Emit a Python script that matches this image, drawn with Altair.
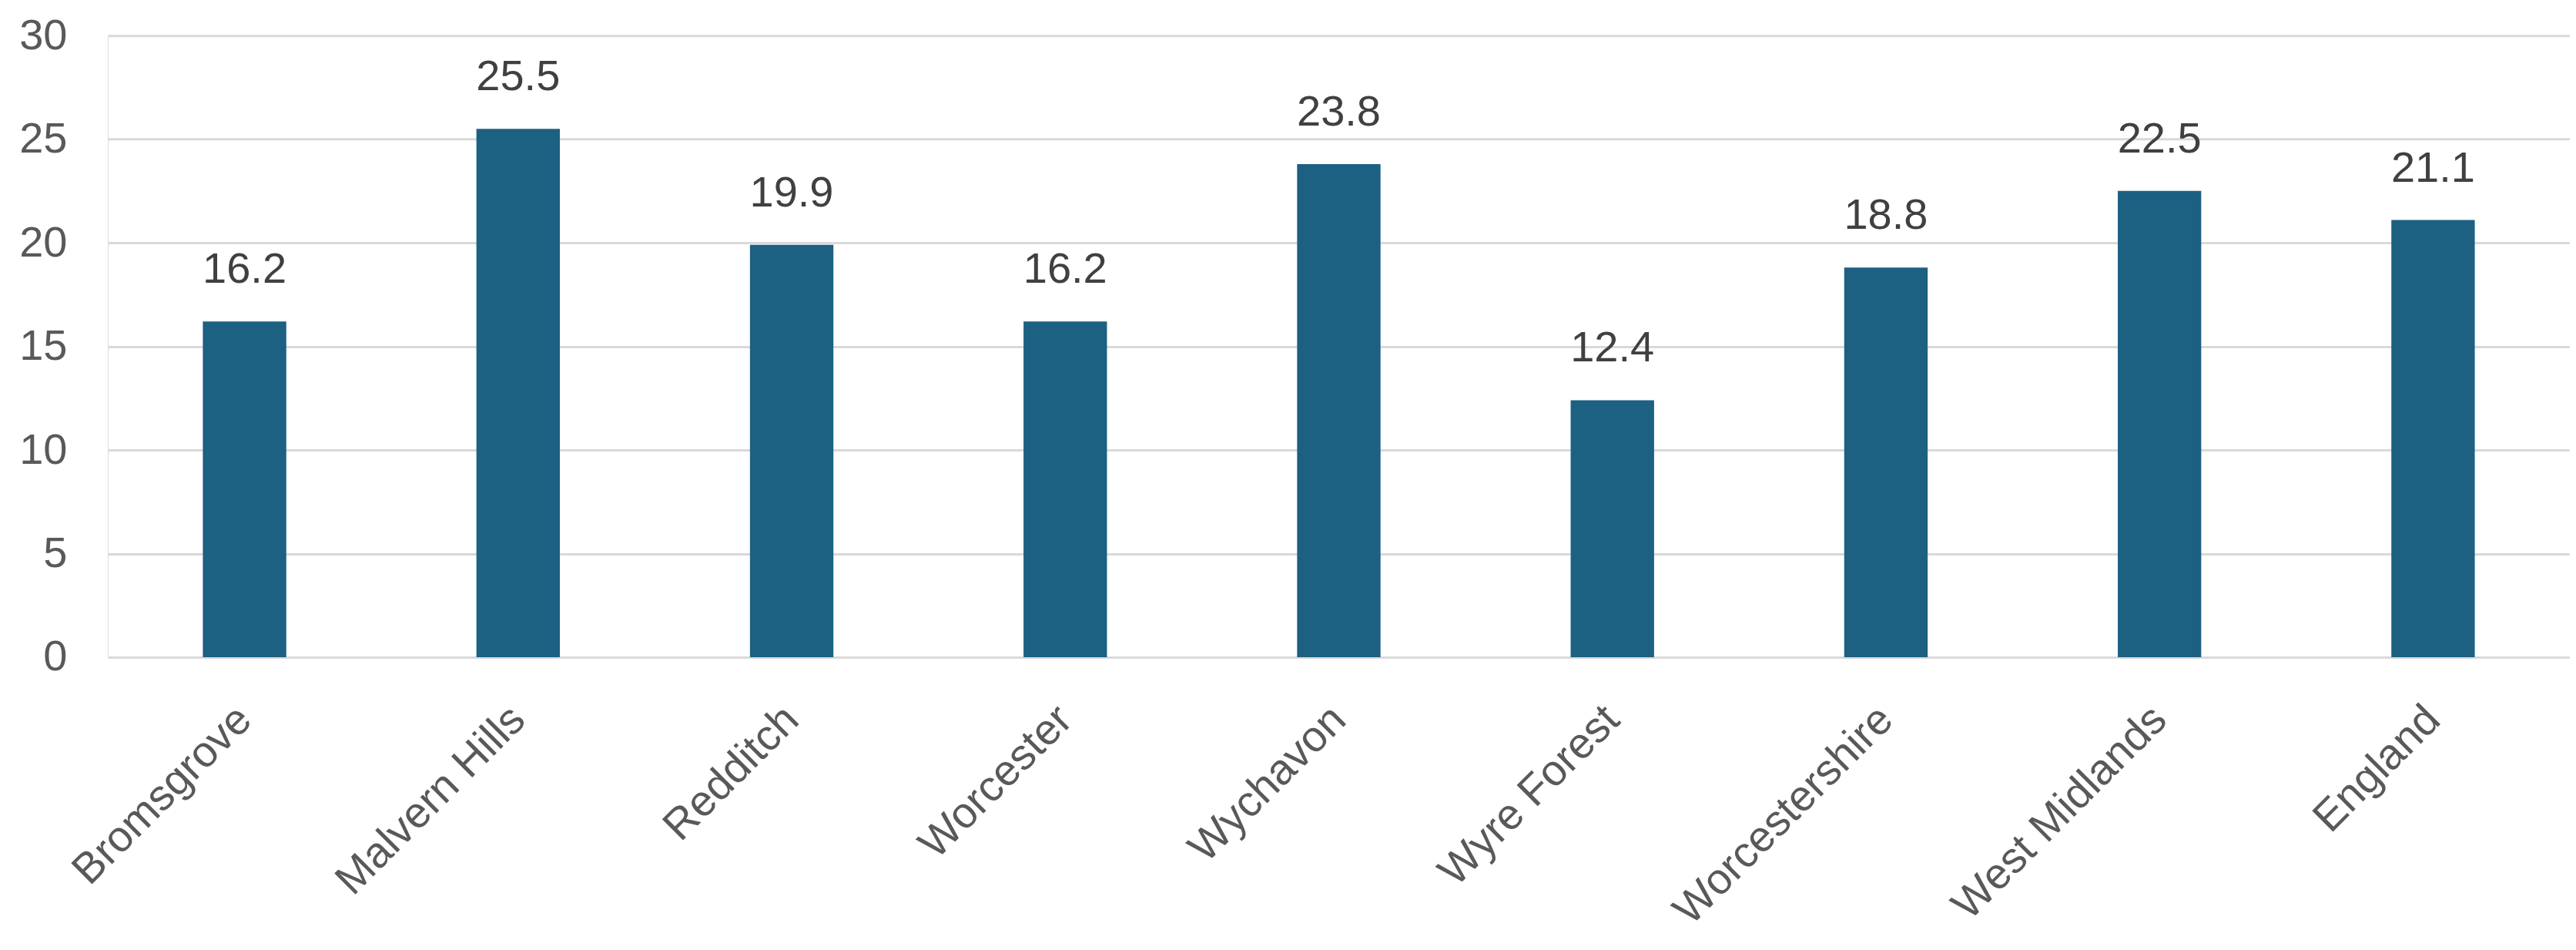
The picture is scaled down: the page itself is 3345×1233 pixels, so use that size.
import altair as alt
import pandas as pd

areas = ["Bromsgrove", "Malvern Hills", "Redditch", "Worcester", "Wychavon",
         "Wyre Forest", "Worcestershire", "West Midlands", "England"]
values = [16.2, 25.5, 19.9, 16.2, 23.8, 12.4, 18.8, 22.5, 21.1]
y_ticks = [0, 5, 10, 15, 20, 25, 30]

df = pd.DataFrame({"area": areas, "value": values})

FONT = "Liberation Sans"
BAR = "#1c6082"
FS = 56

x = alt.X("area:N", sort=areas, title=None,
          scale=alt.Scale(paddingInner=0.695, paddingOuter=0.3475),
          axis=alt.Axis(labelAngle=-45, labelAlign="right", labelBaseline="middle",
                        labelPadding=72, ticks=False, domain=False, grid=False,
                        labelLimit=0, labelOverlap=False,
                        labelFont=FONT, labelFontSize=FS, labelColor="#595959"))
y = alt.Y("value:Q", title=None,
          scale=alt.Scale(domain=[0, 30], nice=False),
          axis=alt.Axis(values=y_ticks, ticks=False, domain=False, grid=True,
                        gridColor="#d9d9d9", gridWidth=3, labelPadding=53,
                        labelFont=FONT, labelFontSize=FS, labelColor="#595959",
                        minExtent=132, maxExtent=132))

bars = alt.Chart(df).mark_bar(color=BAR).encode(x=x, y=y)
labels = alt.Chart(df).mark_text(font=FONT, fontSize=FS, color="#404040",
                                 baseline="alphabetic", dy=-50).encode(
    x=alt.X("area:N", sort=areas),
    y=alt.Y("value:Q"),
    text=alt.Text("value:Q", format=".1f"))

chart = (bars + labels).properties(
    width=3198, height=807,
    padding={"left": 0, "top": 10, "right": 0, "bottom": 0},
).configure_view(stroke=None).configure(background="white")

chart.save("out.html", embed_options={"renderer": "svg", "actions": False})
